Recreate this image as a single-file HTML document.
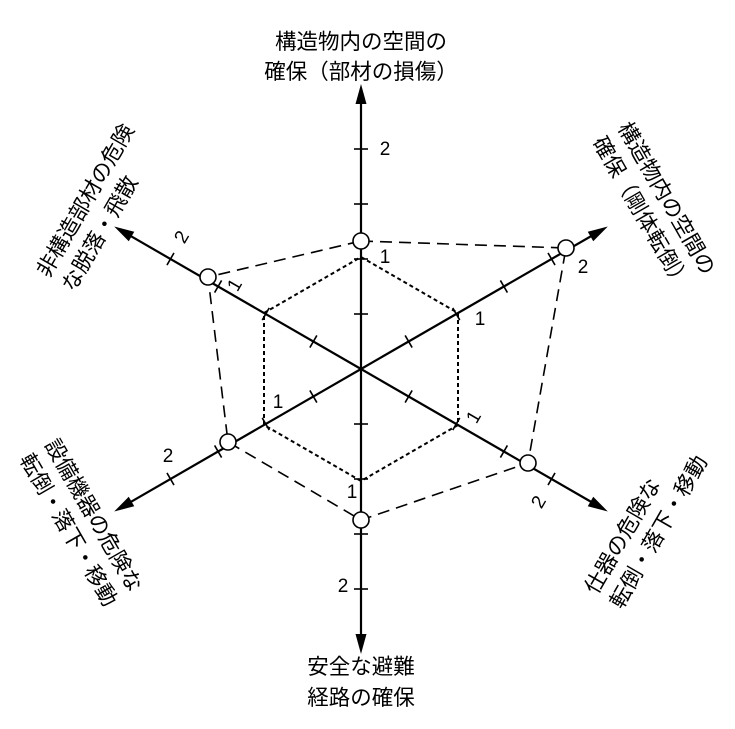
<!DOCTYPE html>
<html><head><meta charset="utf-8"><style>
html,body{margin:0;padding:0;background:#fff;width:735px;height:729px;overflow:hidden}
svg{display:block}
text{font-family:"Liberation Sans","Noto Sans CJK JP",sans-serif;fill:#000}
.j{font-size:21.5px}
.n{font-size:19px}
</style></head><body>
<svg width="735" height="729" viewBox="0 0 735 729" xmlns="http://www.w3.org/2000/svg">
<defs>
<g id="ax">
<line x1="361" y1="369" x2="361" y2="98" stroke="#000" stroke-width="2.2"/>
<polygon points="361,84 355.5,104 366.5,104" fill="#000"/>
<g stroke="#000" stroke-width="1.6">
<line x1="354" y1="314" x2="368" y2="314"/>
<line x1="354" y1="259" x2="368" y2="259"/>
<line x1="354" y1="204" x2="368" y2="204"/>
<line x1="354" y1="149" x2="368" y2="149"/>
</g>
</g>
</defs>
<use href="#ax"/>
<use href="#ax" transform="rotate(60 361 369)"/>
<use href="#ax" transform="rotate(120 361 369)"/>
<use href="#ax" transform="rotate(180 361 369)"/>
<use href="#ax" transform="rotate(240 361 369)"/>
<use href="#ax" transform="rotate(300 361 369)"/>
<polygon points="361,257 458,313 458,425 361,481 264,425 264,313" fill="none" stroke="#000" stroke-width="2" stroke-dasharray="4,3"/>
<polygon points="361,241 566,248 528,463 361,520 228,442 208,277" fill="none" stroke="#000" stroke-width="1.6" stroke-dasharray="12,7"/>
<g fill="#fff" stroke="#000" stroke-width="1.6">
<circle cx="361" cy="241" r="8"/><circle cx="566" cy="248" r="8"/><circle cx="528" cy="463" r="8"/>
<circle cx="361" cy="520" r="8"/><circle cx="228" cy="442" r="8"/><circle cx="208" cy="277" r="8"/>
</g>
<g class="n" text-anchor="middle">
<text x="385" y="155">2</text>
<text x="385" y="263">1</text>
<text x="480" y="325">1</text>
<text x="278" y="408">1</text>
<text x="352" y="498">1</text>
<text x="343" y="592">2</text>
<text x="168" y="462">2</text>
<text x="583" y="273">2</text>
<text transform="translate(240,288) rotate(-60)">1</text>
<text transform="translate(187,240) rotate(-60)">2</text>
<text transform="translate(479,420) rotate(-60)">1</text>
<text transform="translate(544,505) rotate(-60)">2</text>
</g>
<g class="j" text-anchor="middle">
<text x="361" y="49">構造物内の空間の</text>
<text x="361" y="79">確保（部材の損傷）</text>
<text x="361" y="674">安全な避難</text>
<text x="361" y="705">経路の確保</text>
</g>
<g class="j">
<g transform="translate(655,205) rotate(60)">
<text x="-86" y="-6">構造物内の空間の</text>
<text x="-86" y="23">確保（剛体転倒）</text>
</g>
<g transform="translate(97,207) rotate(-60)">
<text x="-86" y="-6">非構造部材の危険</text>
<text x="-86" y="23">な脱落・飛散</text>
</g>
<g transform="translate(82,522) rotate(60)">
<text x="-86" y="-6">設備機器の危険な</text>
<text x="-86" y="23">転倒・落下・移動</text>
</g>
<g transform="translate(645,524) rotate(-60)">
<text x="-86" y="-6">仕器の危険な</text>
<text x="-86" y="23">転倒・落下・移動</text>
</g>
</g>
</svg>
</body></html>
